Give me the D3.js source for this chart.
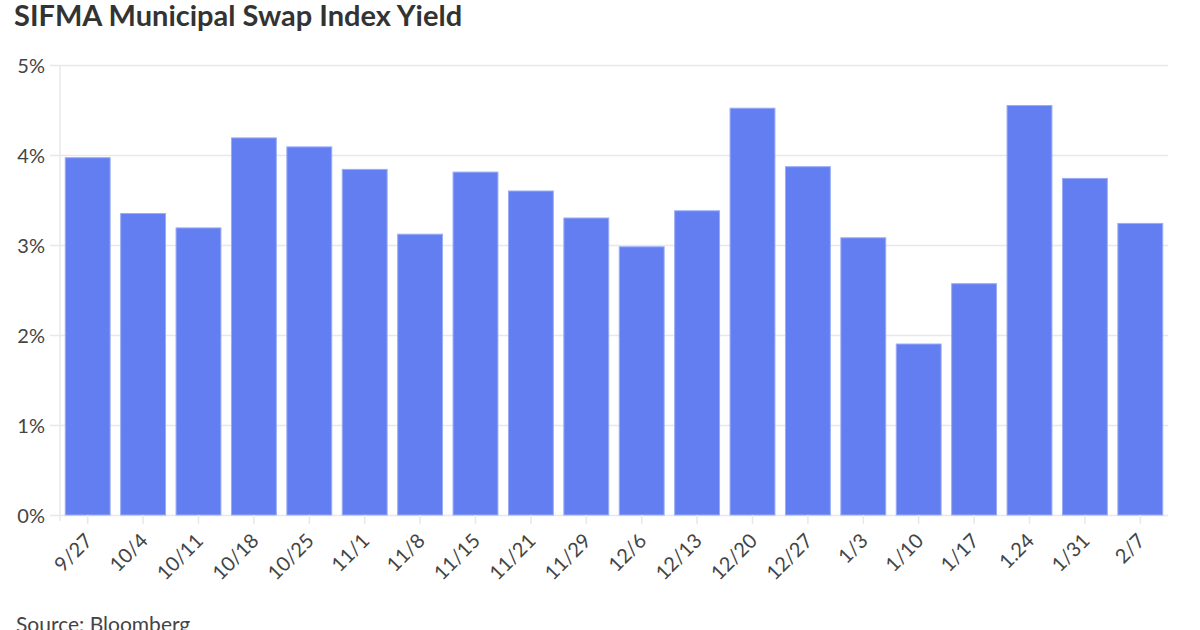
<!DOCTYPE html>
<html><head><meta charset="utf-8">
<script src="https://cdn.jsdelivr.net/npm/d3@7"></script>
<style>body{margin:0;background:#fff;}svg{display:block;font-family:Lato,"Open Sans",sans-serif;}
.ax text{font-family:Lato,sans-serif;font-size:20px;fill:#444;}</style>
</head><body>
<svg id="c" width="1200" height="630"></svg>
<script>
const categories = ["9/27","10/4","10/11","10/18","10/25","11/1","11/8","11/15","11/21","11/29","12/6","12/13","12/20","12/27","1/3","1/10","1/17","1.24","1/31","2/7"];
const yields = [3.97,3.35,3.19,4.19,4.09,3.84,3.12,3.81,3.60,3.30,2.98,3.38,4.52,3.87,3.08,1.90,2.57,4.55,3.74,3.24];
const yTicks = [0,1,2,3,4,5];
const title = "SIFMA Municipal Swap Index Yield";
const source = "Source: Bloomberg";

(function(){
const svg = d3.select("#c");
const mL = 60, mR = 1168, mT = 65, mB = 515;
const x = d3.scaleBand().domain(categories).range([mL, mR]).paddingInner(0.19).paddingOuter(0.095);
const y = d3.scaleLinear().domain([0,5]).range([mB, mT]);

svg.append("text").attr("x",14).attr("y",26).style("font-family","Lato").style("font-size","29px").style("font-weight","700").attr("fill","#333").text(title);

// grid
const yAxis = d3.axisLeft(y).tickValues(yTicks).tickFormat(d=>d+"%").tickSize(0).tickPadding(6);
const gy = svg.append("g").attr("class","ax").attr("transform",`translate(${mL-10},0)`).call(yAxis);
gy.select(".domain").remove();
gy.selectAll(".tick line").attr("x1",0).attr("x2",mR-mL+10).attr("stroke","#e8e8e8").attr("stroke-width",1.5);
gy.selectAll(".tick text").attr("x",-5).attr("dy","0.36em");

// vertical axis line
svg.append("line").attr("x1",mL).attr("x2",mL).attr("y1",mT).attr("y2",mB+6).attr("stroke","#e8e8e8").attr("stroke-width",1.5);

// bars
svg.append("g").selectAll("rect").data(yields).join("rect")
  .attr("x",(d,i)=>x(categories[i]))
  .attr("width",x.bandwidth())
  .attr("y",d=>y(d))
  .attr("height",d=>mB-y(d))
  .attr("fill","#637ef0")
  .attr("stroke","#9aacf6").attr("stroke-width",1);

// x axis
const xAxis = d3.axisBottom(x).tickSize(9).tickPadding(4);
const gx = svg.append("g").attr("class","ax").attr("transform",`translate(0,${mB})`).call(xAxis);
gx.select(".domain").remove();
gx.selectAll(".tick line").attr("stroke","#e8e8e8").attr("stroke-width",1.5);
gx.selectAll(".tick text")
  .attr("text-anchor","end").attr("dy","0").attr("dx","0").attr("y",0)
  .attr("transform","translate(6,27) rotate(-45)");

svg.append("text").attr("x",16).attr("y",632).style("font-family","Lato").style("font-size","21px").attr("fill","#444").text(source);
})();
</script>
</body></html>
